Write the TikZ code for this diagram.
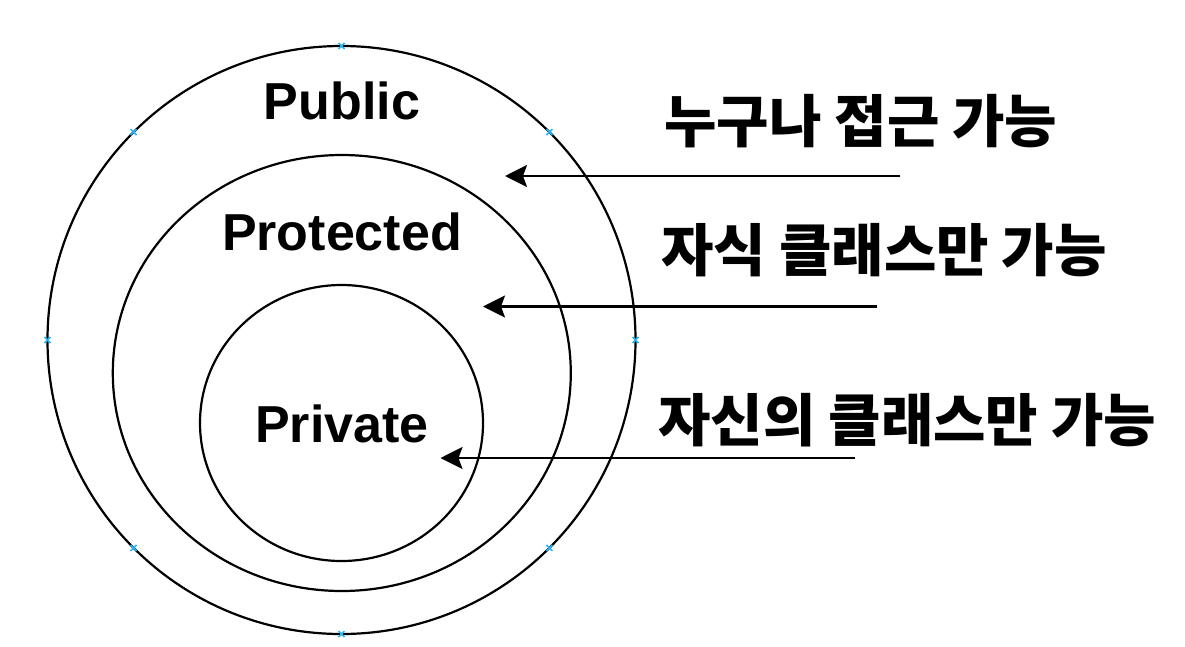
\documentclass[tikz,border=0pt]{standalone}
\usepackage{fontspec}
\setmainfont{Liberation Sans}
\newfontfamily\kr{Noto Sans CJK KR}
\usetikzlibrary{shapes.geometric,arrows.meta,calc}
\definecolor{mkblue}{RGB}{41,182,242}
\begin{document}
\begin{tikzpicture}[x=1pt,y=-1pt,
  ring/.style={draw=black,line width=2.2pt,ellipse,inner sep=0pt},
  lbl/.style={font=\fontsize{52}{60}\selectfont\bfseries,inner sep=0pt,anchor=base},
  krl/.style={font=\kr\fontsize{57}{64}\selectfont\bfseries,inner sep=0pt,anchor=base west},
  arr/.style={line width=2.2pt,-{Stealth[length=22pt,width=22pt,inset=4pt]}},
  mk/.style={draw=mkblue,line width=1.5pt}
]
\useasboundingbox (0,0) rectangle (1185,646);
\node[ring,minimum width=588pt,minimum height=588pt] (outer) at (341.5,340) {};
\node[ring,minimum width=458pt,minimum height=436pt] (middle) at (341.8,373) {};
\node[ring,minimum width=283pt,minimum height=276pt] (inner) at (341.5,423) {};
\node[lbl] (pub) at (342,119.8) {Public};
\node[lbl] (prot) at (342,250) {Protected};
\node[lbl] (priv) at (342,442) {Private};
\node[krl] (t1) at (664,142) {누구나 접근 가능};
\node[krl] (t2) at (661,271) {자식 클래스만 가능};
\node[krl] (t3) at (658,441) {자신의 클래스만 가능};
\coordinate (a1s) at (900,176);
\coordinate (a1e) at (505,176);
\coordinate (a2s) at (877,306.5);
\coordinate (a2e) at (483,306.5);
\coordinate (a3s) at (855,458);
\coordinate (a3e) at (440.5,458);
\draw[arr] (a1s) -- (a1e);
\draw[arr] (a2s) -- (a2e);
\draw[arr] (a3s) -- (a3e);
\foreach \a in {0,45,...,315}{
  \path (outer.center) ++(\a:294) coordinate (m);
  \draw[mk] ($(m)+(-3,-3)$) -- ($(m)+(3,3)$) ($(m)+(-3,3)$) -- ($(m)+(3,-3)$);
}
\end{tikzpicture}
\end{document}
